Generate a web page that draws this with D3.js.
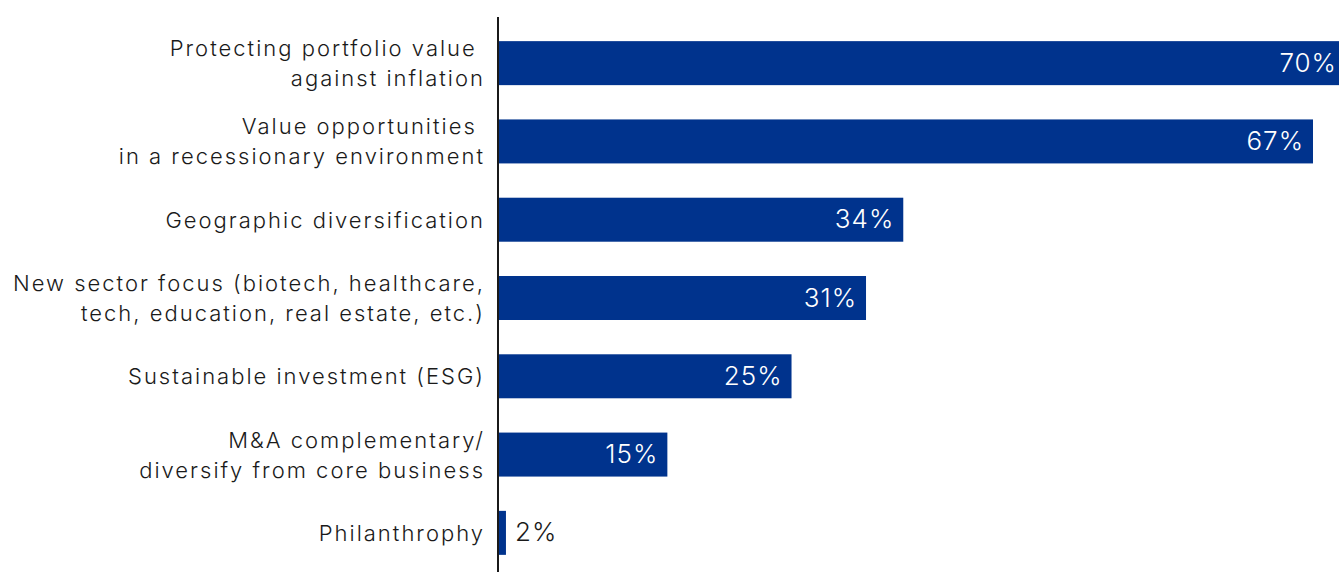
<!DOCTYPE html>
<html>
<head>
<meta charset="utf-8">
<script src="https://cdn.jsdelivr.net/npm/d3@7"></script>
<style>
  html, body { margin: 0; padding: 0; background: #ffffff; }
  svg { display: block; }
  text { font-family: Inter, Roboto, "Liberation Sans", sans-serif; font-weight: 300; }
</style>
</head>
<body>
<svg id="chart" width="1339" height="572"></svg>
<script>
// Survey categories (each entry holds the label lines) and their shares in percent
const categories = [
  ["Protecting portfolio value ", "against inflation"],
  ["Value opportunities ", "in a recessionary environment"],
  ["Geographic diversification"],
  ["New sector focus (biotech, healthcare,", "tech, education, real estate, etc.)"],
  ["Sustainable investment (ESG)"],
  ["M&A complementary/", "diversify from core business"],
  ["Philanthrophy"]
];
const values = [70, 67, 34, 31, 25, 15, 2];
const valueLabels = ["70%", "67%", "34%", "31%", "25%", "15%", "2%"];

const W = 1339, H = 572;
const axisX = 499;
const barColor = "#00338d";

const svg = d3.select("#chart");

const ids = categories.map((_, i) => i);

// Horizontal scale: baseline sits just under the smallest share so it stays visible
const x = d3.scaleLinear().domain([1.44, 67]).range([axisX, 1313]);
const y = d3.scaleBand().domain(ids).range([24, 572]).paddingInner(0.438).paddingOuter(0.219);

// Bars
svg.append("g").selectAll("rect")
  .data(ids)
  .join("rect")
  .attr("x", axisX)
  .attr("y", i => y(i))
  .attr("width", i => Math.max(0, x(values[i]) - axisX))
  .attr("height", y.bandwidth())
  .attr("fill", barColor);

// Value labels: inside the bar in white (kept within the page), or just outside when the bar is too short
const inside = i => x(values[i]) - axisX > 60;
svg.append("g").selectAll("text")
  .data(ids)
  .join("text")
  .attr("x", i => inside(i) ? Math.min(x(values[i]) - 9, W - 2) : x(values[i]) + 9)
  .attr("y", i => y(i) + y.bandwidth() / 2)
  .attr("dy", "0.33em")
  .attr("text-anchor", i => inside(i) ? "end" : "start")
  .attr("fill", i => inside(i) ? "#ffffff" : "#1a1a1a")
  .style("font-size", "26px")
  .style("letter-spacing", "1px")
  .text(i => valueLabels[i]);

// Category labels, right-aligned against the axis
const lineH = 30;
const labelX = axisX - 14;
const labels = svg.append("g").selectAll("text")
  .data(ids)
  .join("text")
  .attr("x", labelX)
  .attr("y", i => y(i) + y.bandwidth() / 2)
  .attr("text-anchor", "end")
  .attr("fill", "#1a1a1a")
  .style("font-size", "22px")
  .style("letter-spacing", "2px")
  .style("white-space", "pre");

labels.each(function(i) {
  const lines = categories[i];
  const n = lines.length;
  d3.select(this).selectAll("tspan")
    .data(lines)
    .join("tspan")
    .attr("x", labelX)
    .attr("dy", (d, k) => k === 0 ? ((-(n - 1) / 2) * lineH + 8) + "px" : lineH + "px")
    .text(d => d);
});

// Vertical axis line
svg.append("line")
  .attr("x1", axisX - 1).attr("x2", axisX - 1)
  .attr("y1", 17).attr("y2", H)
  .attr("stroke", "#000000")
  .attr("stroke-width", 1.8);
</script>
</body>
</html>
